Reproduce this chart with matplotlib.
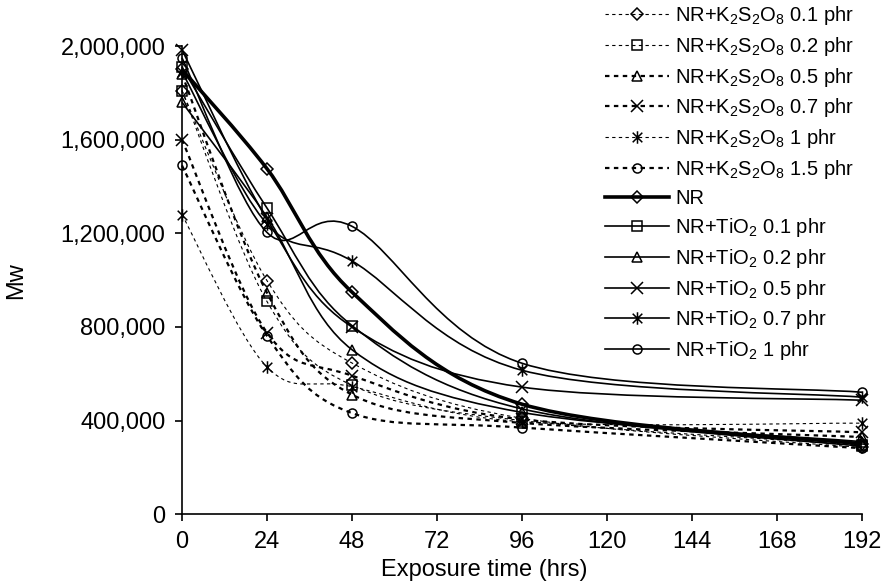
import numpy as np
import matplotlib.pyplot as plt
from matplotlib.path import Path
from matplotlib.patches import PathPatch
from matplotlib.lines import Line2D
from matplotlib.ticker import FuncFormatter

plt.rcParams['font.family'] = ['Liberation Sans', 'DejaVu Sans']
plt.rcParams['mathtext.fontset'] = 'custom'
plt.rcParams['mathtext.rm'] = 'Liberation Sans'
plt.rcParams['mathtext.default'] = 'regular'

# exposure time (hrs)
hours = [0, 24, 48, 96, 192]

# Mw values
k_01 = [1810000, 998000, 646000, 410000, 285000]
k_02 = [1810000, 909000, 551000, 400000, 295000]
k_05 = [1880000, 946000, 511000, 390000, 330000]
k_07 = [1600000, 776000, 592000, 405000, 350000]
k_1 = [1280000, 629000, 545000, 395000, 389000]
k_15 = [1490000, 762000, 432000, 370000, 282000]
nr = [1900000, 1476000, 949000, 470000, 300000]
ti_01 = [1910000, 1308000, 806000, 450000, 290000]
ti_02 = [1760000, 1270000, 703000, 435000, 310000]
ti_05 = [1985000, 1260000, 800000, 543000, 487000]
ti_07 = [1890000, 1240000, 1082000, 615000, 500000]
ti_1 = [1950000, 1204000, 1230000, 645000, 521000]

labels = [r'NR+K$_2$S$_2$O$_8$ 0.1 phr', r'NR+K$_2$S$_2$O$_8$ 0.2 phr',
          r'NR+K$_2$S$_2$O$_8$ 0.5 phr', r'NR+K$_2$S$_2$O$_8$ 0.7 phr',
          r'NR+K$_2$S$_2$O$_8$ 1 phr', r'NR+K$_2$S$_2$O$_8$ 1.5 phr',
          'NR', r'NR+TiO$_2$ 0.1 phr', r'NR+TiO$_2$ 0.2 phr',
          r'NR+TiO$_2$ 0.5 phr', r'NR+TiO$_2$ 0.7 phr', r'NR+TiO$_2$ 1 phr']

# asterisk marker: X with a vertical bar
ast = Path([(-1, -1), (1, 1), (-1, 1), (1, -1), (0, -1.3), (0, 1.3)],
           [Path.MOVETO, Path.LINETO, Path.MOVETO, Path.LINETO, Path.MOVETO, Path.LINETO])

series = [
    (k_01, 'D', (0, (3, 3)), 0.8, 6),
    (k_02, 's', (0, (3, 3)), 0.8, 6.5),
    (k_05, '^', (0, (2, 2)), 1.6, 7.5),
    (k_07, 'x', (0, (2, 2)), 1.6, 8),
    (k_1, ast, (0, (3, 3)), 0.8, 9),
    (k_15, 'o', (0, (2, 2)), 1.6, 6.5),
    (nr, 'D', '-', 2.6, 6),
    (ti_01, 's', '-', 1.2, 6.5),
    (ti_02, '^', '-', 1.2, 7.5),
    (ti_05, 'x', '-', 1.2, 8),
    (ti_07, ast, '-', 1.2, 9),
    (ti_1, 'o', '-', 1.2, 6.5),
]


def smooth_path(x, y):
    # Excel style smoothed line: cubic Bezier through each pair of points
    pts = np.column_stack([x, y]).astype(float)
    n = len(pts)
    verts = [pts[0]]
    codes = [Path.MOVETO]
    for i in range(n - 1):
        p0 = pts[i - 1] if i > 0 else pts[i]
        p1 = pts[i]
        p2 = pts[i + 1]
        p3 = pts[i + 2] if i + 2 < n else pts[i + 1]
        c1 = p1 + (p2 - p0) / 6.0
        c2 = p2 - (p3 - p1) / 6.0
        verts += [c1, c2, p2]
        codes += [Path.CURVE4] * 3
    return Path(verts, codes)


fig = plt.figure(figsize=(8.82, 5.83), dpi=100)
ax = fig.add_axes([0.2063, 0.118, 0.771, 0.803])

handles = []
for (vals, mk, ls, lw, ms), lab in zip(series, labels):
    patch = PathPatch(smooth_path(hours, vals), facecolor='none', edgecolor='black',
                      linewidth=lw, linestyle=ls, clip_on=False)
    ax.add_patch(patch)
    ax.plot(hours, vals, linestyle='none', marker=mk, markersize=ms,
            markerfacecolor='none', markeredgecolor='black', markeredgewidth=1.1,
            clip_on=False, zorder=3)
    handles.append(Line2D([], [], color='black', linestyle=ls, linewidth=lw,
                          marker=mk, markersize=ms, markerfacecolor='none',
                          markeredgecolor='black', markeredgewidth=1.1))

ax.set_xlim(0, 192)
ax.set_ylim(0, 2000000)
ax.set_xticks([0, 24, 48, 72, 96, 120, 144, 168, 192])
ax.set_yticks([0, 400000, 800000, 1200000, 1600000, 2000000])
ax.yaxis.set_major_formatter(FuncFormatter(lambda v, p: f'{v:,.0f}'))
ax.spines['top'].set_visible(False)
ax.spines['right'].set_visible(False)
ax.spines['left'].set_linewidth(1.2)
ax.spines['bottom'].set_linewidth(1.2)
ax.tick_params(direction='out', length=5, width=1.2, labelsize=17, pad=7)
ax.set_xlabel('Exposure time (hrs)', fontsize=17)
ax.set_ylabel('Mw', fontsize=17)
ax.xaxis.set_label_coords(0.444, -0.095)
ax.yaxis.set_label_coords(-0.228, 0.5)

fig.legend(handles, labels, loc='upper left', bbox_to_anchor=(0.672, 1.014),
           frameon=False, fontsize=14.5, handlelength=3.2, handletextpad=0.3,
           labelspacing=0.39, borderpad=0.1, numpoints=1)

fig.savefig('out.png', dpi=100)
